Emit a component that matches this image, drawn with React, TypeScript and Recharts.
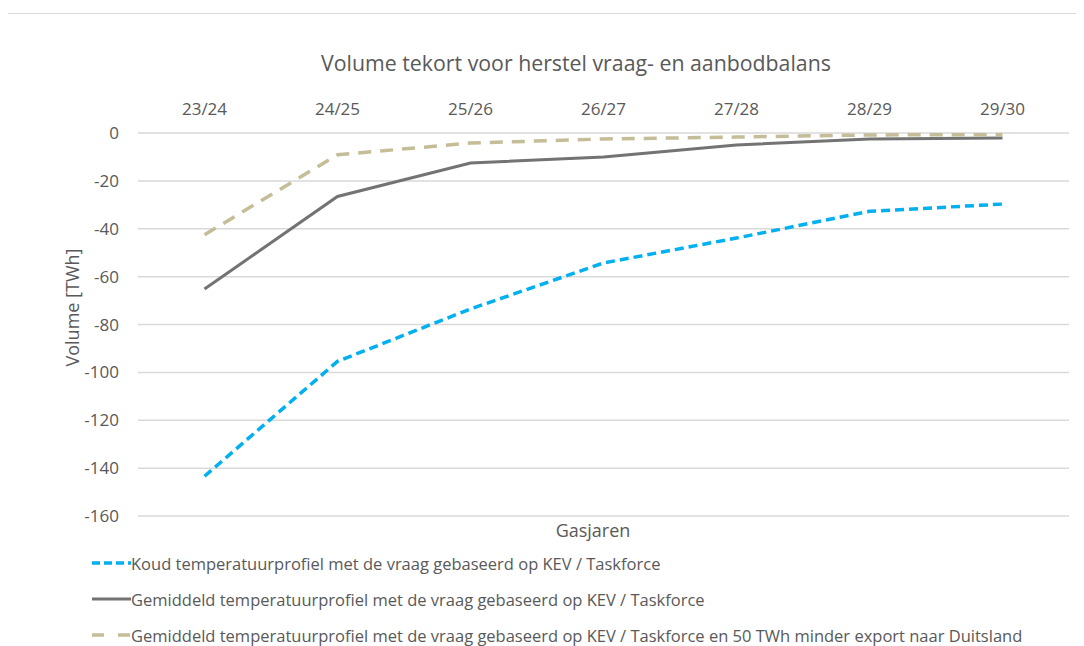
import React from 'react';
import { LineChart, Line, XAxis, YAxis, CartesianGrid } from 'recharts';

const categories = ['23/24', '24/25', '25/26', '26/27', '27/28', '28/29', '29/30'];
const koud = [-143.4, -95.4, -73.5, -54.3, -43.9, -32.7, -29.7];
const gemiddeld = [-65.2, -26.5, -12.5, -10, -5, -2.5, -2.1];
const gemiddeldExport = [-42.5, -9.1, -4.2, -2.5, -1.7, -0.8, -0.7];
const yTicks = [0, -20, -40, -60, -80, -100, -120, -140, -160];

const seriesNames = [
  'Koud temperatuurprofiel met de vraag gebaseerd op KEV / Taskforce',
  'Gemiddeld temperatuurprofiel met de vraag gebaseerd op KEV / Taskforce',
  'Gemiddeld temperatuurprofiel met de vraag gebaseerd op KEV / Taskforce en 50 TWh minder export naar Duitsland',
];
const seriesKeys = ['koud', 'gemiddeld', 'export'];
const seriesColors = ['#00B0F0', '#737373', '#C4BD97'];
const seriesDash = ['9 5', '', '13 9'];
const legendDash = ['8 4', '', '12 14'];

const data = categories.map((c, i) => ({
  cat: c,
  koud: koud[i],
  gemiddeld: gemiddeld[i],
  export: gemiddeldExport[i],
}));

const FONT = '"Open Sans", sans-serif';
const TEXT = '#595959';

export default function App() {
  return (
    <div style={{ position: 'relative', width: 1084, height: 646, margin: '-8px 0 0 -8px', overflow: 'hidden', background: '#fff', fontFamily: FONT }}>
      <div style={{ position: 'absolute', left: 7, top: 13, width: 1200, height: 800, border: '1.5px solid #d9d9d9', boxSizing: 'border-box' }} />
      <div style={{ position: 'absolute', left: 0, width: 1152, top: 48, textAlign: 'center', fontSize: 21.3, color: TEXT, whiteSpace: 'nowrap' }}>
        Volume tekort voor herstel vraag- en aanbodbalans
      </div>
      <div style={{ position: 'absolute', left: 0, top: 0 }}>
        <LineChart width={1084} height={646} data={data} margin={{ top: 93, right: 15, left: 48, bottom: 130 }}>
          <CartesianGrid vertical={false} stroke="#d9d9d9" strokeWidth={1.5} />
          <XAxis
            dataKey="cat"
            orientation="top"
            height={40}
            axisLine={false}
            tickLine={false}
            padding={{ left: 66.5, right: 66.5 }}
            tick={{ fill: TEXT, fontSize: 17, fontFamily: FONT }}
            tickMargin={12}
            interval={0}
          />
          <YAxis
            width={90}
            domain={[-160, 0]}
            ticks={yTicks}
            interval={0}
            axisLine={false}
            tickLine={false}
            tickMargin={13}
            tick={{ fill: TEXT, fontSize: 17, fontFamily: FONT }}
            label={{ value: 'Volume [TWh]', angle: -90, position: 'insideLeft', dx: 20, dy: -17, fill: TEXT, fontSize: 18, fontFamily: FONT, style: { textAnchor: 'middle' } }}
          />
          {seriesKeys.map((k, i) => (
            <Line
              key={k}
              type="linear"
              dataKey={k}
              name={seriesNames[i]}
              stroke={seriesColors[i]}
              strokeWidth={i === 1 ? 3 : 3.5}
              strokeDasharray={seriesDash[i] || undefined}
              dot={false}
              activeDot={false}
              isAnimationActive={false}
            />
          ))}
        </LineChart>
      </div>
      <div style={{ position: 'absolute', left: 0, width: 1186, top: 518, textAlign: 'center', fontSize: 18, color: TEXT }}>Gasjaren</div>
      {seriesNames.map((n, i) => (
        <div key={n} style={{ position: 'absolute', left: 92, top: 552 + i * 36, height: 22, display: 'flex', alignItems: 'center', color: TEXT, fontSize: 16.5, whiteSpace: 'nowrap' }}>
          <svg width={39} height={10} style={{ display: 'block' }}>
            <line x1={0} y1={5} x2={39} y2={5} stroke={seriesColors[i]} strokeWidth={i === 1 ? 3 : 3.5} strokeDasharray={legendDash[i] || undefined} />
          </svg>
          <span>{n}</span>
        </div>
      ))}
    </div>
  );
}
